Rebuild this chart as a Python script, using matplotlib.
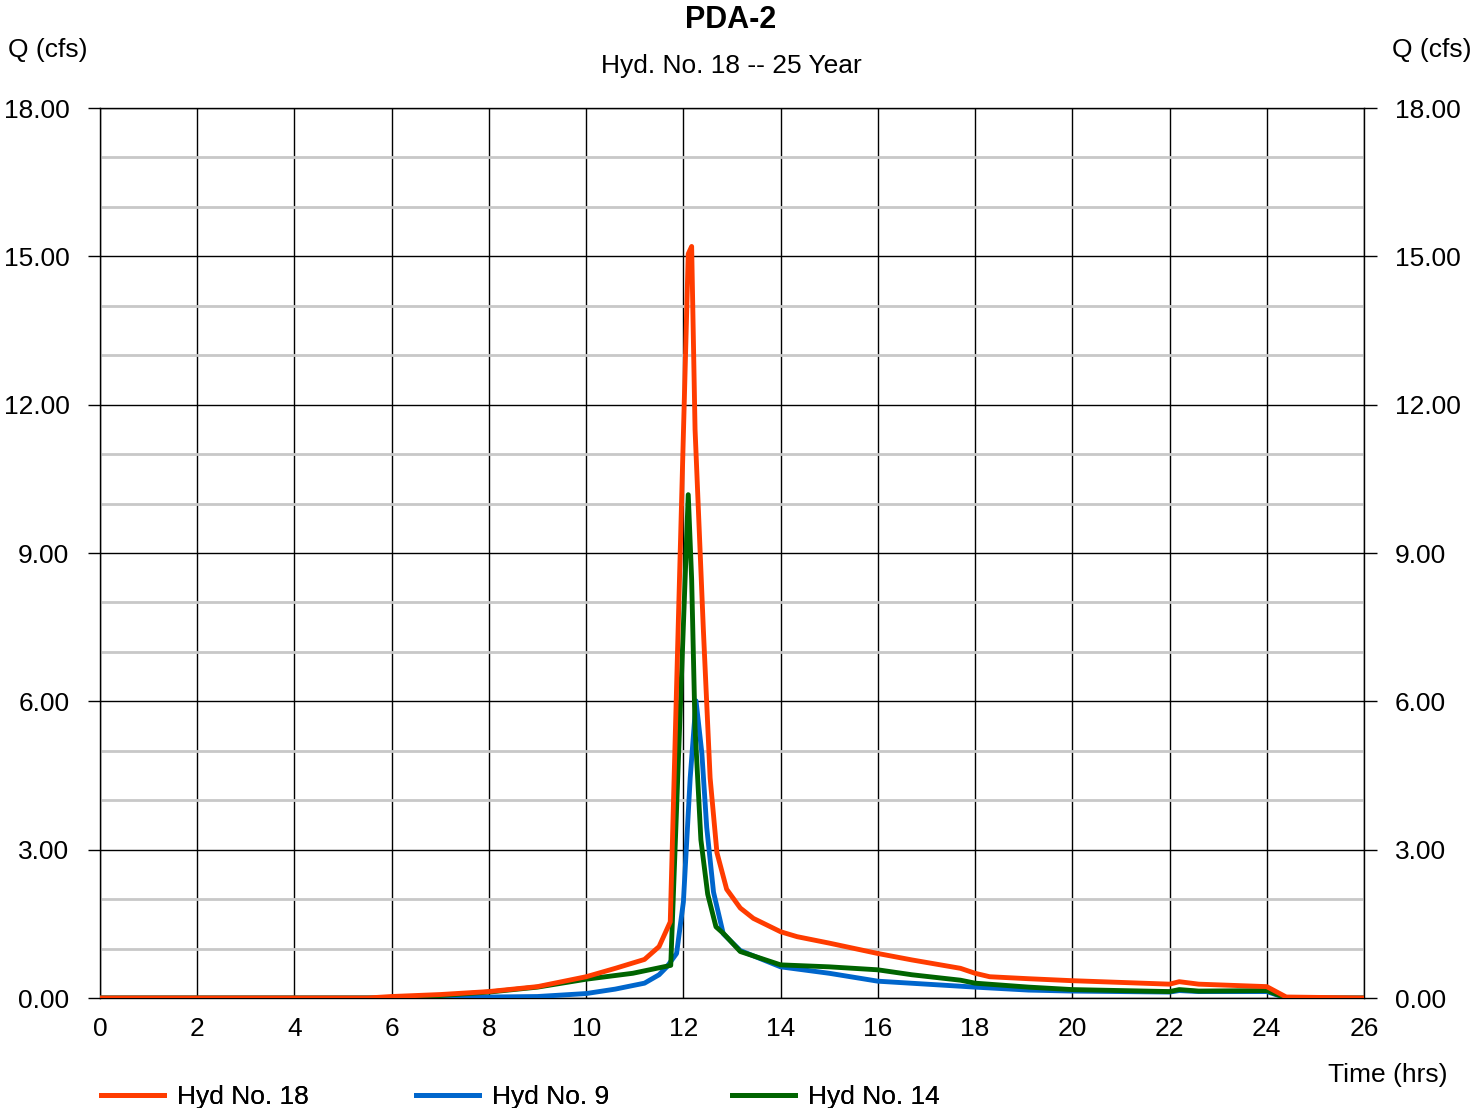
import matplotlib
matplotlib.use("Agg")
import matplotlib.pyplot as plt
from matplotlib.ticker import MultipleLocator

plt.rcParams['font.family'] = ['Liberation Sans', 'DejaVu Sans']

# Hyd No. 18
t_red = [0, 5.5, 6, 7, 8, 9, 10, 10.6, 11.2, 11.5, 11.73, 12.1, 12.17, 12.24, 12.41, 12.55, 12.69,
         12.89, 13.17, 13.44, 14.0, 14.34, 15.0, 16.0, 16.7, 17.7, 18.0, 18.3, 19.1, 20, 22, 22.2,
         22.6, 24, 24.4, 26]
q_red = [0, 0, 0.03, 0.07, 0.13, 0.23, 0.43, 0.60, 0.78, 1.04, 1.54, 15.05, 15.2, 11.5, 7.47, 4.45, 2.94,
         2.2, 1.82, 1.61, 1.34, 1.24, 1.11, 0.90, 0.77, 0.60, 0.50, 0.43, 0.39, 0.35, 0.28, 0.33,
         0.28, 0.23, 0.02, 0]

# Hyd No. 9
t_blue = [0, 6.8, 8, 9, 10, 10.6, 11.2, 11.5, 11.66, 11.86, 12.0, 12.14, 12.26, 12.38, 12.48, 12.62,
          12.82, 13.17, 14.0, 15.0, 16.0, 18.0, 19.1, 20, 22, 22.2, 22.6, 24, 24.4, 26]
q_blue = [0, 0, 0.02, 0.03, 0.09, 0.18, 0.30, 0.47, 0.63, 0.9, 1.94, 4.45, 6.01, 4.95, 3.45, 2.14,
          1.30, 0.96, 0.63, 0.50, 0.34, 0.22, 0.16, 0.14, 0.12, 0.15, 0.13, 0.13, 0, 0]

# Hyd No. 14
t_green = [0, 6, 7, 8, 9, 10, 10.96, 11.74, 12.1, 12.17, 12.24, 12.36, 12.5, 12.67, 12.83, 13.17,
           14.0, 15.0, 16.0, 16.7, 17.7, 18.0, 19.1, 20, 22, 22.2, 22.6, 24, 24.4, 26]
q_green = [0, 0, 0.05, 0.12, 0.22, 0.38, 0.50, 0.66, 10.18, 8.47, 5.46, 3.2, 2.1, 1.44, 1.30, 0.94,
           0.67, 0.63, 0.57, 0.47, 0.36, 0.30, 0.22, 0.17, 0.13, 0.17, 0.14, 0.15, 0, 0]

W, H = 1473, 1108
fig = plt.figure(figsize=(W / 100, H / 100), dpi=100)
ax = fig.add_axes([100 / W, 1 - 998 / H, 1264 / W, 890 / H])

l_blue, = ax.plot(t_blue, q_blue, color='#0066cc', lw=3.5, zorder=3)
l_green, = ax.plot(t_green, q_green, color='#006400', lw=3.5, zorder=4)
l_red, = ax.plot(t_red, q_red, color='#ff3c00', lw=3.5, zorder=5)

ax.set_xlim(0, 26)
ax.set_ylim(0, 18)
ax.xaxis.set_major_locator(MultipleLocator(2))
ax.yaxis.set_major_locator(MultipleLocator(3))
ax.yaxis.set_minor_locator(MultipleLocator(1))
ax.yaxis.set_major_formatter(lambda v, p: '%.2f' % v)

ax.grid(True, which='major', color='black', lw=1)
ax.grid(True, which='minor', axis='y', color='#c8c8c8', lw=2)
ax.set_axisbelow(True)

for s in ax.spines.values():
    s.set_color('black')
    s.set_linewidth(1)

ax.tick_params(axis='x', length=0, pad=14, labelsize=19)
ax.tick_params(axis='y', which='major', direction='out', length=9, width=1, pad=13,
               labelsize=19, left=True, right=True, labelleft=True, labelright=True)
ax.tick_params(axis='y', which='minor', length=0)

fig.text(731 / W, 1 - 20 / H, 'PDA-2', fontsize=22, fontweight='bold', ha='center', va='center')
fig.text(731 / W, 1 - 66 / H, 'Hyd. No. 18 -- 25 Year', fontsize=19, ha='center', va='center')
fig.text(8 / W, 1 - 50 / H, 'Q (cfs)', fontsize=19, ha='left', va='center')
fig.text(1471 / W, 1 - 50 / H, 'Q (cfs)', fontsize=19, ha='right', va='center')
fig.text(1448 / W, 1 - 1075 / H, 'Time (hrs)', fontsize=19, ha='right', va='center')

# legend: one entry per slot, evenly spaced under the plot
for handle, name, xpx in [(l_red, 'Hyd No. 18', 90), (l_blue, 'Hyd No. 9', 405),
                          (l_green, 'Hyd No. 14', 721)]:
    lg = fig.legend([handle], [name], loc='center left',
                    bbox_to_anchor=(xpx / W, 1 - 1097 / H), frameon=False, fontsize=19,
                    handlelength=2.4, handletextpad=0.5, borderaxespad=0)
    fig.add_artist(lg)

fig.savefig('out.png', dpi=100)
